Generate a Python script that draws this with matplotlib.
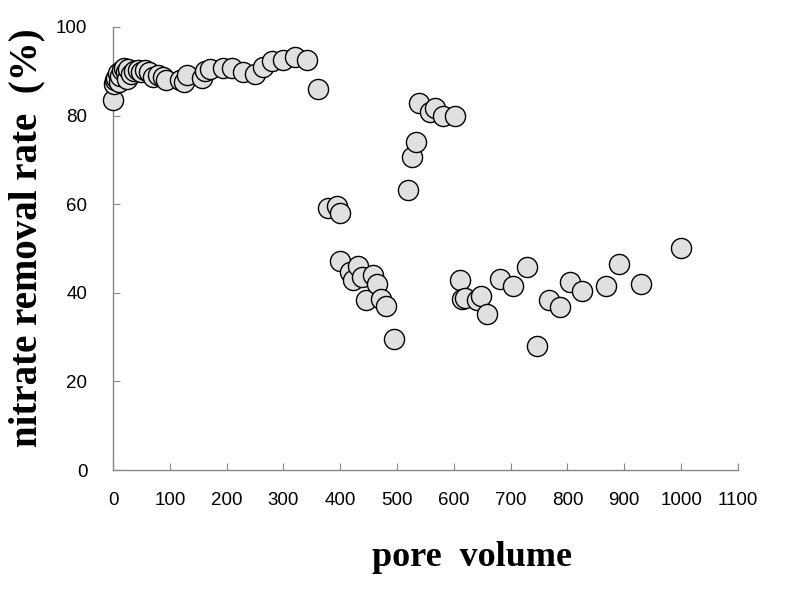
import numpy as np
import matplotlib.pyplot as plt

# pore volume vs nitrate removal rate
pore_volume = [0, 2, 3, 5, 9, 10, 12, 16, 19, 23, 25, 26, 32, 37, 44, 49, 56, 63,
               70, 79, 88, 93, 118, 125, 130, 156, 162, 171, 194, 209, 229, 250,
               264, 279, 300, 320, 341, 360,
               378, 395, 399, 400, 417, 423, 432, 439, 445, 458, 465, 472, 480, 495,
               520, 527, 533, 539, 558, 567, 581, 602,
               610, 615, 620, 640, 647, 659, 682, 704, 728, 746, 768, 786,
               805, 826, 867, 890, 930, 999]
removal_rate = [83.6, 87.1, 88.0, 88.5, 89.6, 87.6, 88.9, 90.3, 90.7, 89.8, 88.3, 90.5,
                89.4, 90.1, 90.3, 89.8, 90.3, 89.8, 88.7, 89.2, 88.7, 88.0, 88.0, 87.5,
                89.2, 88.4, 90.0, 90.4, 90.7, 90.7, 89.9, 89.4, 91.0, 92.3, 92.5, 93.3,
                92.5, 85.9,
                59.2, 59.6, 57.9, 47.2, 44.8, 42.9, 46.1, 43.6, 38.4, 44.0, 42.0, 38.5,
                37.1, 29.5,
                63.2, 70.6, 74.0, 82.8, 80.7, 81.6, 80.0, 79.8,
                42.9, 38.5, 38.8, 38.4, 39.3, 35.2, 43.0, 41.5, 45.9, 28.0, 38.4, 36.7,
                42.4, 40.4, 41.5, 46.5, 41.9, 50.0]

fig = plt.figure(figsize=(7.91, 5.98), dpi=100)
ax = fig.add_axes([0.1429, 0.214, 0.79, 0.741])

ax.scatter(pore_volume, removal_rate, s=210, facecolor='#e0e0e0',
           edgecolor='black', linewidth=1.0, zorder=3, clip_on=False)

ax.set_xlim(0, 1100)
ax.set_ylim(0, 100)
ax.set_xticks(np.arange(0, 1101, 100))
ax.set_yticks(np.arange(0, 101, 20))

for s in ['top', 'right']:
    ax.spines[s].set_visible(False)
for s in ['left', 'bottom']:
    ax.spines[s].set_color('#868686')
    ax.spines[s].set_linewidth(1.0)

ax.tick_params(axis='both', direction='in', length=5, color='#868686',
               labelsize=13.5, labelcolor='black')
ax.tick_params(axis='y', pad=18.5)
ax.tick_params(axis='x', pad=16)
for lbl in ax.get_xticklabels() + ax.get_yticklabels():
    lbl.set_fontfamily('Liberation Sans')

# axis titles placed where they sit in the original
fig.text(472 / 791, 1 - 566 / 598, 'pore  volume', fontfamily='Liberation Serif',
         fontweight='bold', fontsize=26, ha='center', va='baseline')
fig.text(27 / 791, 1 - 238 / 598, 'nitrate removal rate  (%)',
         fontfamily='Liberation Serif', fontweight='bold', fontsize=28,
         rotation=90, ha='center', va='center')

fig.savefig('out.png', dpi=100)
